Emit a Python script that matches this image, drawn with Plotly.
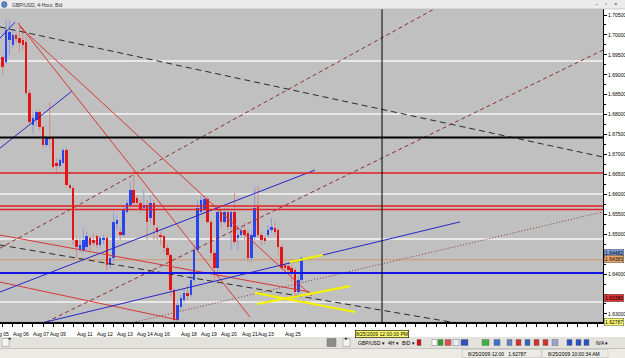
import plotly.graph_objects as go

# ---------------- data ----------------
opens = [1.6945,1.6932,1.6987,1.6975,1.7000,1.6992,1.6987,1.6982,1.6854,1.6774,
         1.6787,1.6807,1.6769,1.6724,1.6744,1.6741,1.6679,1.6671,1.6679,1.6711,
         1.6623,1.6616,1.6486,1.6460,1.6460,1.6468,1.6491,1.6486,1.6496,1.6473,
         1.6486,1.6491,1.6423,1.6440,1.6526,1.6506,1.6498,1.6556,1.6573,1.6611,
         1.6591,1.6578,1.6566,1.6573,1.6541,1.6578,1.6516,1.6498,1.6496,1.6465,
         1.6448,1.6360,1.6285,1.6317,1.6335,1.6353,1.6348,1.6385,1.6460,1.6556,
         1.6561,1.6588,1.6531,1.6453,1.6415,1.6556,1.6531,1.6556,1.6518,1.6556,
         1.6491,1.6498,1.6511,1.6503,1.6440,1.6493,1.6568,1.6498,1.6491,1.6498,
         1.6511,1.6516,1.6511,1.6468,1.6423,1.6420,1.6415,1.6410,1.6355,1.6385]
highs = [1.6950,1.7040,1.7037,1.7012,1.7007,1.7030,1.7017,1.6997,1.6862,1.6807,
         1.6812,1.6814,1.6774,1.6746,1.6832,1.6749,1.6691,1.6691,1.6716,1.6716,
         1.6628,1.6621,1.6493,1.6491,1.6516,1.6506,1.6496,1.6503,1.6501,1.6496,
         1.6498,1.6496,1.6448,1.6556,1.6548,1.6516,1.6573,1.6586,1.6631,1.6661,
         1.6598,1.6586,1.6611,1.6586,1.6598,1.6586,1.6521,1.6506,1.6501,1.6473,
         1.6453,1.6365,1.6335,1.6348,1.6365,1.6373,1.6410,1.6473,1.6586,1.6596,
         1.6598,1.6596,1.6536,1.6460,1.6566,1.6561,1.6566,1.6566,1.6561,1.6603,
         1.6523,1.6521,1.6531,1.6511,1.6511,1.6618,1.6621,1.6506,1.6496,1.6523,
         1.6541,1.6531,1.6516,1.6473,1.6430,1.6430,1.6423,1.6415,1.6395,1.6445]
lows = [1.6899,1.6927,1.6950,1.6967,1.6982,1.6957,1.6962,1.6849,1.6774,1.6754,
        1.6772,1.6761,1.6716,1.6719,1.6716,1.6664,1.6651,1.6666,1.6676,1.6618,
        1.6611,1.6473,1.6440,1.6455,1.6453,1.6463,1.6460,1.6470,1.6465,1.6465,
        1.6475,1.6410,1.6415,1.6430,1.6511,1.6486,1.6493,1.6551,1.6568,1.6573,
        1.6568,1.6553,1.6558,1.6486,1.6523,1.6486,1.6486,1.6473,1.6455,1.6440,
        1.6345,1.6279,1.6280,1.6310,1.6330,1.6335,1.6343,1.6380,1.6455,1.6551,
        1.6553,1.6526,1.6440,1.6378,1.6405,1.6516,1.6526,1.6511,1.6460,1.6473,
        1.6460,1.6491,1.6486,1.6430,1.6430,1.6486,1.6491,1.6473,1.6475,1.6491,
        1.6503,1.6498,1.6448,1.6410,1.6398,1.6398,1.6380,1.6343,1.6345,1.6380]
closes = [1.6920,1.7012,1.7007,1.7000,1.6990,1.6980,1.6975,1.6854,1.6782,1.6792,
          1.6807,1.6769,1.6724,1.6741,1.6739,1.6669,1.6671,1.6686,1.6711,1.6623,
          1.6616,1.6486,1.6468,1.6473,1.6486,1.6496,1.6473,1.6478,1.6473,1.6491,
          1.6491,1.6423,1.6440,1.6531,1.6536,1.6498,1.6561,1.6578,1.6611,1.6578,
          1.6578,1.6561,1.6573,1.6531,1.6578,1.6523,1.6506,1.6493,1.6465,1.6448,
          1.6360,1.6285,1.6322,1.6340,1.6353,1.6345,1.6385,1.6460,1.6566,1.6586,
          1.6588,1.6531,1.6453,1.6415,1.6556,1.6531,1.6556,1.6518,1.6556,1.6481,
          1.6498,1.6511,1.6498,1.6440,1.6498,1.6566,1.6498,1.6486,1.6483,1.6511,
          1.6518,1.6506,1.6468,1.6415,1.6415,1.6410,1.6405,1.6355,1.6385,1.6440]

# day starts (bar index) and their labels on the time axis
day_start = [-3, 3, 9, 14, 22, 28, 34, 40, 45, 53, 59, 65, 71, 76, 84]
day_label = ["Aug 05", "Aug 06", "Aug 07", "Aug 09", "Aug 11", "Aug 12", "Aug 13", "Aug 14",
             "Aug 16", "Aug 18", "Aug 19", "Aug 20", "Aug 21", "Aug 23", "Aug 25"]

price_ticks = [1.630, 1.635, 1.640, 1.645, 1.650, 1.655, 1.660, 1.665, 1.670,
               1.675, 1.680, 1.685, 1.690, 1.695, 1.700, 1.705]
hidden_ticks = [1.635, 1.645]   # covered by the price flags in the original

# horizontal levels
h_white = [1.69346, 1.68016, 1.66009, 1.64880, 1.63299]
h_black = [1.67427]
h_red = [1.66536, 1.65708, 1.65620]
h_orange = [1.64360]
h_blue = [1.64027]

# trend lines: (bar0, price0, bar1, price1)
black_dash = [(-0.8, 1.70199, 178.66, 1.66937), (-0.8, 1.6473, 178.66, 1.62145)]
red_thin = [(4.55, 1.7030, 73.6, 1.62923), (5.15, 1.7020, 92.05, 1.6345),
            (-0.8, 1.6498, 91.46, 1.6355), (-0.8, 1.6380, 52.2, 1.6285)]
blue_thin = [(-0.8, 1.6992, 3.66, 1.7032), (-0.8, 1.6716, 20.6, 1.6859),
             (-0.8, 1.6355, 92.95, 1.6661), (8.0, 1.6270, 136.1, 1.6531)]
brown_dash = [(-0.8, 1.6465, 128.4, 1.7065), (11.1, 1.6272, 178.66, 1.69622)]
brown_dot = [(37.9, 1.6277, 178.66, 1.6556)]
yellow = [(75.1, 1.6353, 104.9, 1.6305), (75.7, 1.6325, 103.4, 1.6370),
          (85.5, 1.6430, 95.3, 1.6448)]

cross_bar = 112.9
cross_price = 1.62787
cross_time = "8/25/2009 12:00:00 PM"

# labelled prices on the price scale: (price, text, background)
price_flags = [(1.64530, "1.64482", "#7f9fe0"), (1.64383, "1.64383", "#f0a868"),
               (1.63390, "1.63390", "#e03030"), (1.62787, "1.62787", "#ffff70")]

# ---------------- geometry ----------------
W, H = 625, 358
ML, MR, MT, MB = 0, 22, 9, 35
PW, PH = W - ML - MR, H - MT - MB
XMIN = -0.8
XMAX = XMIN + PW / 3.36
YMIN, YMAX = 1.62773, 1.70651
FONT = "Liberation Sans"


def px(xp):
    return (xp - ML) / PW


def py(yp):
    return (H - MB - yp) / PH


def bx(i):
    return (i - XMIN) / (XMAX - XMIN)


def yp_of_price(p):
    return (p - YMIN) / (YMAX - YMIN)


fig = go.Figure()

# wicks
n = len(opens)
idx = list(range(n))
for up in (True, False):
    xs, ys = [], []
    for i in idx:
        is_up = closes[i] >= opens[i]
        if is_up != up:
            continue
        top = max(opens[i], closes[i])
        bot = min(opens[i], closes[i])
        xs += [i, i, None, i, i, None]
        ys += [highs[i], top, None, bot, lows[i], None]
    fig.add_trace(go.Scatter(x=xs, y=ys, mode="lines", hoverinfo="skip",
                             line=dict(color="#8d9bd8" if up else "#cf8c8c", width=1)))

# bodies
bases = [min(o, c) for o, c in zip(opens, closes)]
hts = [max(abs(c - o), 0.00028) for o, c in zip(opens, closes)]
cols = ["#2745ea" if c >= o else "#e51414" for o, c in zip(opens, closes)]
fig.add_trace(go.Bar(x=idx, y=hts, base=bases, width=0.74, marker_color=cols,
                     marker_line_width=0, hoverinfo="skip"))


def add_lines(lst, color, width, dash="solid"):
    xs, ys = [], []
    for a, b, c, d in lst:
        xs += [a, c, None]
        ys += [b, d, None]
    fig.add_trace(go.Scatter(x=xs, y=ys, mode="lines", hoverinfo="skip",
                             line=dict(color=color, width=width, dash=dash)))


shapes = []
for v in h_white:
    shapes.append(dict(type="line", xref="paper", x0=0, x1=1, yref="y", y0=v, y1=v,
                       line=dict(color="#f6f6f6", width=1.5), layer="below"))
for v in h_orange:
    shapes.append(dict(type="line", xref="paper", x0=0, x1=1, yref="y", y0=v, y1=v,
                       line=dict(color="#d49468", width=1), layer="below"))

add_lines(black_dash, "#2a2a2a", 1, "6px,4px")
add_lines(brown_dash, "#8a3030", 1, "4px,3px")
add_lines(brown_dot, "#8a3a3a", 1, "1px,2px")
add_lines(red_thin, "#d83838", 1)
add_lines(blue_thin, "#2626c8", 1)
add_lines(yellow, "#f2f200", 2.2)

for v in h_black:
    shapes.append(dict(type="line", xref="paper", x0=0, x1=1, yref="y", y0=v, y1=v,
                       line=dict(color="#000000", width=2)))
for v in h_red:
    shapes.append(dict(type="line", xref="paper", x0=0, x1=1, yref="y", y0=v, y1=v,
                       line=dict(color="#e22222", width=1.6)))
for v in h_blue:
    shapes.append(dict(type="line", xref="paper", x0=0, x1=1, yref="y", y0=v, y1=v,
                       line=dict(color="#1414e6", width=2)))

# crosshair
shapes.append(dict(type="line", xref="x", x0=cross_bar, x1=cross_bar, yref="paper", y0=0, y1=1,
                   line=dict(color="#000000", width=1)))
shapes.append(dict(type="line", xref="paper", x0=0, x1=1, yref="y", y0=cross_price, y1=cross_price,
                   line=dict(color="#000000", width=1)))

annotations = []

# time axis labels
for d, t in zip(day_start, day_label):
    annotations.append(dict(xref="paper", yref="paper", x=bx(d - 0.5), y=py(333.5),
                            text=t, showarrow=False, xanchor="left", yanchor="middle",
                            font=dict(family=FONT, size=5, color="#000")))
annotations.append(dict(xref="paper", yref="paper", x=bx(cross_bar), y=py(333.5),
                        text=cross_time, showarrow=False, xanchor="center", yanchor="middle",
                        bgcolor="#ffff70", bordercolor="#000", borderwidth=0.6, borderpad=0.3,
                        font=dict(family=FONT, size=5, color="#000")))

# price flags
for p, t, bg in price_flags:
    annotations.append(dict(xref="paper", yref="paper", x=px(603.5), y=yp_of_price(p),
                            text=t, showarrow=False, xanchor="left", yanchor="middle",
                            bgcolor=bg, bordercolor="#505050", borderwidth=0.5, borderpad=0.5,
                            font=dict(family=FONT, size=5, color="#000")))

# ---- window chrome: title bar ----
shapes.append(dict(type="rect", xref="paper", yref="paper", x0=px(0), x1=px(W), y0=py(0), y1=py(MT),
                   fillcolor="#ebebeb", line=dict(width=0), layer="above"))
shapes.append(dict(type="line", xref="paper", yref="paper", x0=px(0), x1=px(W), y0=py(MT), y1=py(MT),
                   line=dict(color="#b0b0b0", width=0.6)))
shapes.append(dict(type="circle", xref="paper", yref="paper", x0=px(1.5), x1=px(7), y0=py(1.5), y1=py(7.5),
                   fillcolor="#5a86c8", line=dict(color="#2c4f8a", width=0.5)))
annotations.append(dict(xref="paper", yref="paper", x=px(9.5), y=py(4.6), text="GBP/USD, 4-Hour, Bid",
                        showarrow=False, xanchor="left", yanchor="middle",
                        font=dict(family=FONT, size=5, color="#303030")))
for xx, t in [(597, "–"), (606, "▫"), (616, "×")]:
    annotations.append(dict(xref="paper", yref="paper", x=px(xx), y=py(4.5), text=t, showarrow=False,
                            xanchor="center", yanchor="middle",
                            font=dict(family=FONT, size=6, color="#555")))

# ---- toolbar ----
shapes.append(dict(type="rect", xref="paper", yref="paper", x0=px(0), x1=px(W), y0=py(337), y1=py(348),
                   fillcolor="#e4e2dc", line=dict(width=0)))
shapes.append(dict(type="rect", xref="paper", yref="paper", x0=px(0), x1=px(W), y0=py(348), y1=py(H),
                   fillcolor="#ecebe6", line=dict(width=0)))
shapes.append(dict(type="line", xref="paper", yref="paper", x0=px(0), x1=px(W), y0=py(348.5), y1=py(348.5),
                   line=dict(color="#a8a8a8", width=0.6)))
for x0, x1 in [(2, 9), (343, 350)]:
    shapes.append(dict(type="rect", xref="paper", yref="paper", x0=px(x0), x1=px(x1), y0=py(338.5), y1=py(346.5),
                       fillcolor="#f4f4f4", line=dict(color="#8a8a8a", width=0.5)))
shapes.append(dict(type="rect", xref="paper", yref="paper", x0=px(327), x1=px(336), y0=py(338.5), y1=py(346.5),
                   fillcolor="#8c8c8c", line=dict(color="#707070", width=0.5)))
annotations.append(dict(xref="paper", yref="paper", x=px(5.5), y=py(342.5), text="◂", showarrow=False,
                        font=dict(family=FONT, size=5, color="#000")))
annotations.append(dict(xref="paper", yref="paper", x=px(346.5), y=py(342.5), text="▸", showarrow=False,
                        font=dict(family=FONT, size=5, color="#000")))
for xx, t in [(356, "GBP/USD ▾"), (386, "4H ▾"), (400, "BID ▾"), (594, "N/A ▾")]:
    annotations.append(dict(xref="paper", yref="paper", x=px(xx), y=py(342.5), text=t, showarrow=False,
                            xanchor="left", yanchor="middle",
                            font=dict(family=FONT, size=5, color="#000")))
icons = [(417, 421, "#d01010"), (432, 437, "#ffffff"), (438, 443, "#30a030"), (445, 451, "#e05050"),
         (453, 459, "#e8f0ff"), (461, 468, "#3050c0"), (482, 489, "#40b040"), (494, 500, "#4070d0"),
         (507, 512, "#6080c0"), (516, 521, "#d03030"), (525, 530, "#3060c0"), (534, 539, "#d03030"),
         (543, 548, "#d03030"), (552, 558, "#a0a0d0"), (567, 572, "#2850c8"), (576, 581, "#2850c8"),
         (584, 589, "#2850c8")]
for x0, x1, c in icons:
    shapes.append(dict(type="rect", xref="paper", yref="paper", x0=px(x0), x1=px(x1), y0=py(339.5), y1=py(345.5),
                       fillcolor=c, line=dict(color="#606060", width=0.4)))
for x0, x1 in [(462, 541), (542, 608)]:
    shapes.append(dict(type="rect", xref="paper", yref="paper", x0=px(x0), x1=px(x1), y0=py(349.5), y1=py(357.5),
                       fillcolor="rgba(0,0,0,0)", line=dict(color="#b4b4b4", width=0.5)))
annotations.append(dict(xref="paper", yref="paper", x=px(466), y=py(353.5), text="8/25/2009 12:00   1.62787",
                        showarrow=False, xanchor="left", yanchor="middle",
                        font=dict(family=FONT, size=5, color="#000")))
annotations.append(dict(xref="paper", yref="paper", x=px(546), y=py(353.5), text="8/25/2009 10:00:34 AM",
                        showarrow=False, xanchor="left", yanchor="middle",
                        font=dict(family=FONT, size=5, color="#000")))

fig.update_layout(
    width=W, height=H, autosize=False, showlegend=False,
    margin=dict(l=ML, r=MR, t=MT, b=MB, pad=0),
    plot_bgcolor="#c0c0c0", paper_bgcolor="#ffffff",
    bargap=0, shapes=shapes, annotations=annotations,
    xaxis=dict(range=[XMIN, XMAX], showgrid=False, zeroline=False, showline=True,
               linecolor="#000", linewidth=1, ticks="outside", ticklen=3, tickcolor="#000",
               tickwidth=0.6, tickvals=list(range(0, 180, 3)), showticklabels=False, fixedrange=True),
    yaxis=dict(range=[YMIN, YMAX], side="right", showgrid=False, zeroline=False, showline=True,
               linecolor="#000", linewidth=1, ticks="outside", ticklen=3, tickcolor="#000",
               tickwidth=0.6, tickvals=price_ticks,
               ticktext=["" if v in hidden_ticks else f"{v:.5f}" for v in price_ticks],
               tickfont=dict(family=FONT, size=5, color="#000"),
               minor=dict(ticks="outside", ticklen=1.5, dtick=0.0025, tickcolor="#000"),
               fixedrange=True),
)

fig.write_html("out.html")
